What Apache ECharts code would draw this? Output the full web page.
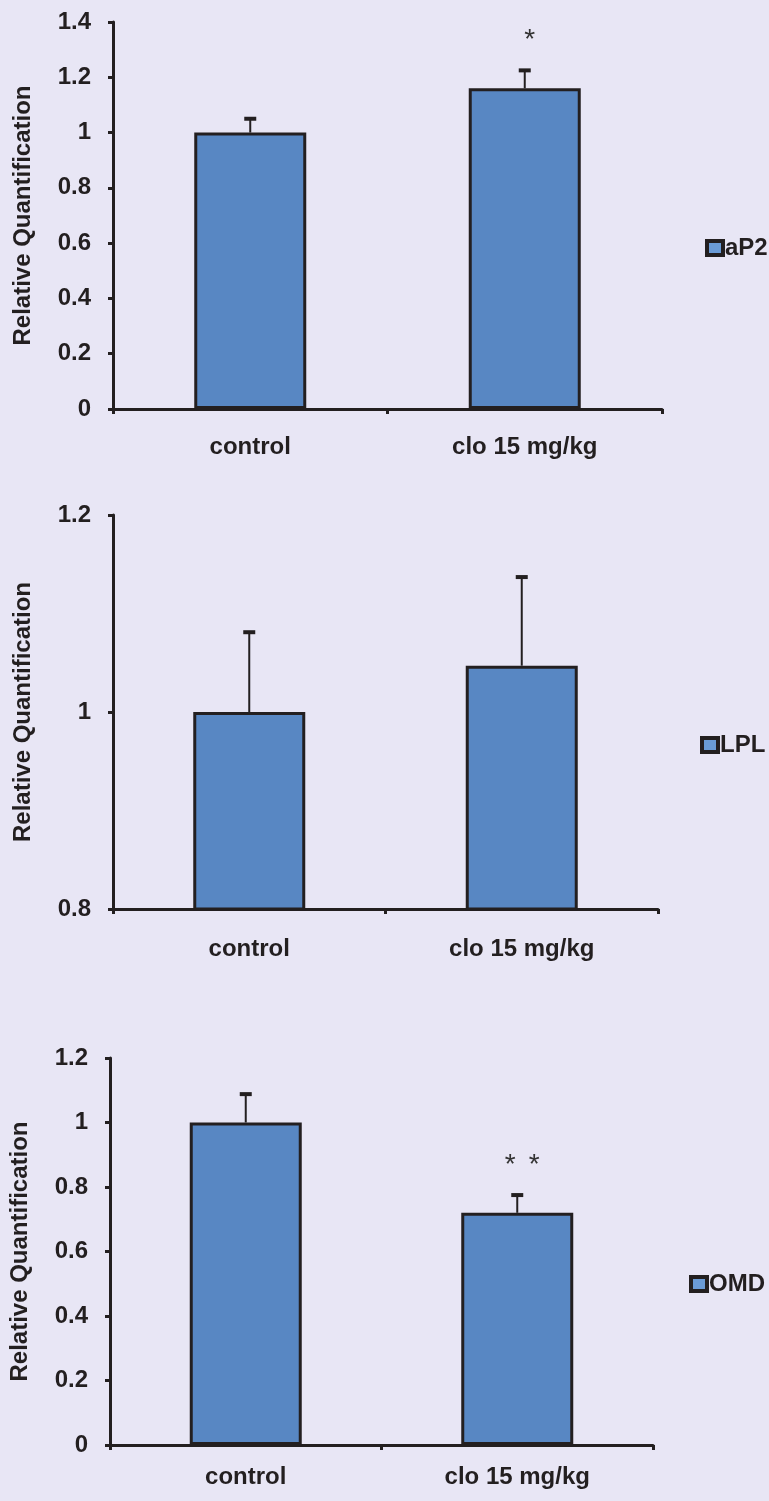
<!DOCTYPE html>
<html>
<head>
<meta charset="utf-8">
<script src="https://cdn.jsdelivr.net/npm/echarts@6/dist/echarts.min.js"></script>
<style>
  html, body { margin: 0; padding: 0; background: #e8e6f5; }
  #chart { width: 769px; height: 1501px; }
</style>
</head>
<body>
<div id="chart"></div>
<script>
// ---- Data ----
const categories = ['control', 'clo 15 mg/kg'];

const aP2Values = [1.0, 1.16];
const aP2Errors = [0.05, 0.065];
const aP2Sig = ['', '*'];

const lplValues = [1.0, 1.047];
const lplErrors = [0.081, 0.09];
const lplSig = ['', ''];

const omdValues = [1.0, 0.72];
const omdErrors = [0.088, 0.055];
const omdSig = ['', '**'];

const aP2Axis = { min: 0, max: 1.4, interval: 0.2 };
const lplAxis = { min: 0.8, max: 1.2, interval: 0.2 };
const omdAxis = { min: 0, max: 1.2, interval: 0.2 };

const yTitle = 'Relative Quantification';

// ---- Style ----
const DARK = '#231f20';
const BAR = '#5887c3';
const FONT = '"Liberation Sans", Arial, sans-serif';
const FS = 24;

const panels = [
  { name: 'aP2', values: aP2Values, errors: aP2Errors, sig: aP2Sig, axis: aP2Axis,
    grid: { left: 113, top: 22, width: 549, height: 387 }, labelMargin: 26,
    legend: { left: 700, top: 231 } },
  { name: 'LPL', values: lplValues, errors: lplErrors, sig: lplSig, axis: lplAxis,
    grid: { left: 113, top: 515, width: 545, height: 394 }, labelMargin: 28,
    legend: { left: 695, top: 728 } },
  { name: 'OMD', values: omdValues, errors: omdErrors, sig: omdSig, axis: omdAxis,
    grid: { left: 110, top: 1058, width: 543, height: 387 }, labelMargin: 20,
    legend: { left: 684, top: 1267 } }
];

function makeErrorRenderer(sig) {
  return function (params, api) {
    const xi = api.value(0);
    const v = api.value(1);
    const e = api.value(2);
    const base = api.coord([xi, v]);
    const top = api.coord([xi, v + e]);
    const children = [
      { type: 'line', shape: { x1: base[0], y1: base[1], x2: top[0], y2: top[1] },
        style: { stroke: DARK, lineWidth: 2 } },
      { type: 'line', shape: { x1: top[0] - 6, y1: top[1], x2: top[0] + 6, y2: top[1] },
        style: { stroke: DARK, lineWidth: 4 } }
    ];
    const s = sig[params.dataIndex] || '';
    const n = s.length;
    for (let i = 0; i < n; i++) {
      children.push({
        type: 'text',
        style: {
          x: top[0] + 5 + (i - (n - 1) / 2) * 24,
          y: top[1] - 30,
          text: '*',
          fill: '#333',
          font: '28px ' + FONT,
          align: 'center',
          verticalAlign: 'middle'
        }
      });
    }
    return { type: 'group', children: children };
  };
}

const option = {
  backgroundColor: '#e8e6f5',
  animation: false,
  textStyle: { fontFamily: FONT },
  grid: panels.map(p => Object.assign({ containLabel: false }, p.grid)),
  legend: panels.map((p, i) => ({
    data: [p.name],
    left: p.legend.left,
    top: p.legend.top,
    orient: 'vertical',
    icon: 'rect',
    itemWidth: 16,
    itemHeight: 14,
    itemGap: 0,
    selectedMode: false,
    itemStyle: { borderColor: DARK, borderWidth: 4, color: '#6a9bd6' },
    textStyle: { fontFamily: FONT, fontWeight: 'bold', fontSize: FS, color: DARK, padding: [0, 0, 0, -3] }
  })),
  xAxis: panels.map((p, i) => ({
    type: 'category',
    gridIndex: i,
    data: categories,
    axisLine: { show: true, onZero: false, lineStyle: { color: DARK, width: 3 } },
    axisTick: { show: true, length: 5, inside: false, alignWithLabel: false, lineStyle: { color: DARK, width: 3 } },
    axisLabel: { margin: p.labelMargin, fontFamily: FONT, fontWeight: 'bold', fontSize: FS, color: DARK },
    splitLine: { show: false }
  })),
  yAxis: panels.map((p, i) => ({
    type: 'value',
    gridIndex: i,
    min: p.axis.min,
    max: p.axis.max,
    interval: p.axis.interval,
    name: yTitle,
    nameLocation: 'middle',
    nameGap: 78,
    nameTextStyle: { fontFamily: FONT, fontWeight: 'bold', fontSize: FS, color: DARK },
    axisLine: { show: true, lineStyle: { color: DARK, width: 3 } },
    axisTick: { show: true, length: 5, inside: false, lineStyle: { color: DARK, width: 3 } },
    axisLabel: { margin: 22, fontFamily: FONT, fontWeight: 'bold', fontSize: FS, color: DARK },
    splitLine: { show: false }
  })),
  series: []
};

panels.forEach((p, i) => {
  option.series.push({
    name: p.name,
    type: 'bar',
    xAxisIndex: i,
    yAxisIndex: i,
    data: p.values,
    barWidth: 112,
    itemStyle: { color: BAR, borderColor: DARK, borderWidth: 3 },
    z: 2
  });
  option.series.push({
    name: p.name + ' error',
    type: 'custom',
    xAxisIndex: i,
    yAxisIndex: i,
    data: p.values.map((v, k) => [k, v, p.errors[k]]),
    renderItem: makeErrorRenderer(p.sig),
    z: 3,
    silent: true
  });
});

const chart = echarts.init(document.getElementById('chart'), null, { renderer: 'canvas' });
chart.setOption(option);
</script>
</body>
</html>
